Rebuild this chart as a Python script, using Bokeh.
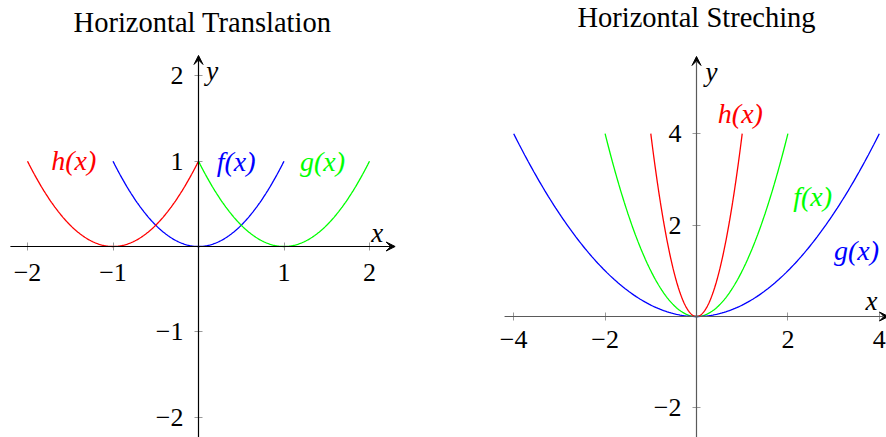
import numpy as np
from bokeh.plotting import figure
from bokeh.layouts import row
from bokeh.models import (Arrow, VeeHead, LinearAxis, FixedTicker, Label,
                          ColumnDataSource, CustomJSTickFormatter)
from bokeh.core.properties import value
from bokeh.embed import file_html
from bokeh.resources import INLINE

FONT = "Liberation Serif"

# Horizontal translation: f(x) = x^2 and its shifts g(x) = (x-1)^2, h(x) = (x+1)^2
trans_names = ["f(x)", "g(x)", "h(x)"]
trans_shifts = [0.0, 1.0, -1.0]
trans_domains = [(-1.0, 1.0), (0.0, 2.0), (-2.0, 0.0)]
trans_colors = ["#0000ff", "#00ff00", "#ff0000"]
trans_xticks = [-2, -1, 1, 2]
trans_yticks = [-2, -1, 1, 2]

# Horizontal stretching: f(x) = x^2, g(x) = (x/2)^2, h(x) = (2x)^2
stretch_names = ["f(x)", "g(x)", "h(x)"]
stretch_factors = [1.0, 0.5, 2.0]
stretch_domains = [(-2.0, 2.0), (-4.0, 4.0), (-1.0, 1.0)]
stretch_colors = ["#00ff00", "#0000ff", "#ff0000"]
stretch_xticks = [-4, -2, 2, 4]
stretch_yticks = [-2, 2, 4]

N_SAMPLES = 201

# tick marks come from the axes; their numbers are set as text below
BLANK_FMT = "return '';"


def tick_text(v):
    return ("\u2212%g" % -v) if v < 0 else "%g" % v


def make_panel(title, title_x, title_y, x_range, y_range, xticks, yticks,
               x_arrow, y_arrow, axis_color, xlab, ylab, xlabel_drop):
    p = figure(width=443, height=437, x_range=x_range, y_range=y_range,
               x_axis_location=None, y_axis_location=None,
               toolbar_location=None, output_backend="svg", min_border=0)
    p.grid.visible = False
    p.outline_line_color = None
    p.background_fill_color = "white"
    p.border_fill_color = "white"

    xax = LinearAxis(ticker=FixedTicker(ticks=xticks),
                     formatter=CustomJSTickFormatter(code=BLANK_FMT))
    yax = LinearAxis(ticker=FixedTicker(ticks=yticks),
                     formatter=CustomJSTickFormatter(code=BLANK_FMT))
    for ax in (xax, yax):
        ax.fixed_location = 0
        ax.axis_line_color = None
        ax.major_tick_in = 4
        ax.major_tick_out = 4
        ax.major_tick_line_color = "#9a9a9a"
        ax.major_tick_line_width = 1
        ax.minor_tick_line_color = None
    p.add_layout(xax, "below")
    p.add_layout(yax, "left")

    # tick numbers
    p.text(x=xticks, y=[0] * len(xticks), text=[tick_text(t) for t in xticks],
           text_font=value(FONT), text_font_size="26px", text_color="black",
           text_align="center", text_baseline="middle", y_offset=xlabel_drop)
    p.text(x=[0] * len(yticks), y=yticks, text=[tick_text(t) for t in yticks],
           text_font=value(FONT), text_font_size="26px", text_color="black",
           text_align="right", text_baseline="middle", x_offset=-15)

    head = dict(size=9, fill_color="black", line_color="black", line_width=1)
    p.add_layout(Arrow(end=VeeHead(**head), x_start=x_arrow[0], y_start=0,
                       x_end=x_arrow[1], y_end=0,
                       line_color=axis_color, line_width=1.2))
    p.add_layout(Arrow(end=VeeHead(**head), x_start=0, y_start=y_arrow[0],
                       x_end=0, y_end=y_arrow[1],
                       line_color=axis_color, line_width=1.2))

    p.add_layout(Label(x=title_x, y=title_y, x_units="screen", y_units="screen",
                       text=title, text_font=FONT, text_font_size="28.5px",
                       text_align="center", text_baseline="middle",
                       text_color="black"))

    p.text(x=[xlab[0], ylab[0]], y=[xlab[1], ylab[1]], text=["x", "y"],
           text_font=value(FONT), text_font_style="italic",
           text_font_size="27px", text_align="center",
           text_baseline="middle", text_color="black")
    return p


# ---- left panel: translation ----
left = make_panel("Horizontal Translation", 202, 437 - 22,
                  (-198 / 85.5, 245 / 85.5), (-191 / 85.3, 246 / 85.3),
                  trans_xticks, trans_yticks,
                  (-2.2, 2.3), (-2.3, 2.24), "black",
                  (2.09, 0.16), (0.16, 2.06), 26)
for name, s, (a, b), c in zip(trans_names, trans_shifts, trans_domains, trans_colors):
    xs = np.linspace(a, b, N_SAMPLES)
    left.line(xs, (xs - s) ** 2, line_color=c, line_width=1.3)

trans_label_pos = {"h(x)": (-1.46, 1.01), "f(x)": (0.44, 1.0), "g(x)": (1.45, 1.0)}
src = ColumnDataSource(dict(
    x=[trans_label_pos[n][0] for n in trans_names],
    y=[trans_label_pos[n][1] for n in trans_names],
    text=trans_names, color=trans_colors))
left.text(x="x", y="y", text="text", text_color="color", source=src,
          text_font=value(FONT), text_font_style="italic",
          text_font_size="28px", text_align="center", text_baseline="middle")

# ---- right panel: stretching ----
right = make_panel("Horizontal Streching", 253, 437 - 17,
                   (-253 / 45.7, 190 / 45.7), (-121 / 45.7, 316 / 45.7),
                   stretch_xticks, stretch_yticks,
                   (-4.2, 4.2), (-2.7, 5.69), "#5a5a5a",
                   (3.83, 0.35), (0.33, 5.36), 23)
for name, k, (a, b), c in zip(stretch_names, stretch_factors, stretch_domains, stretch_colors):
    xs = np.linspace(a, b, N_SAMPLES)
    right.line(xs, (k * xs) ** 2, line_color=c, line_width=1.3)

stretch_label_pos = {"h(x)": (0.96, 4.44), "f(x)": (2.54, 2.63), "g(x)": (3.5, 1.44)}
src2 = ColumnDataSource(dict(
    x=[stretch_label_pos[n][0] for n in stretch_names],
    y=[stretch_label_pos[n][1] for n in stretch_names],
    text=stretch_names, color=stretch_colors))
right.text(x="x", y="y", text="text", text_color="color", source=src2,
           text_font=value(FONT), text_font_style="italic",
           text_font_size="28px", text_align="center", text_baseline="middle")

layout = row(left, right)
open("out.html", "w").write(file_html(layout, INLINE))
